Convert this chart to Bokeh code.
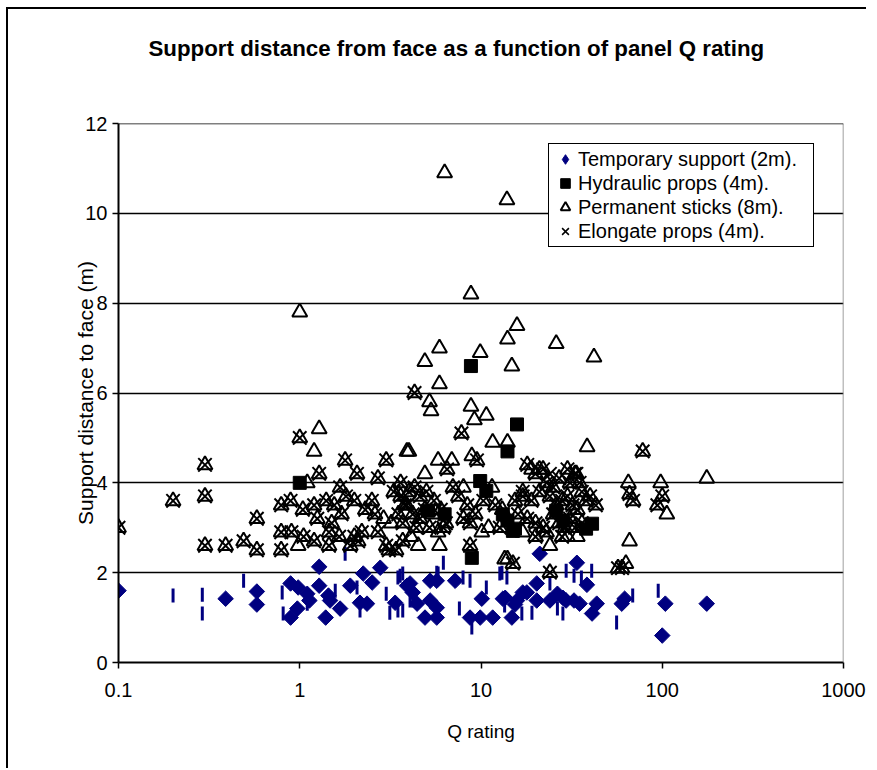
import math
from bokeh.plotting import figure
from bokeh.models import Range1d, FixedTicker, Legend, LegendItem, Span, Title
from bokeh.embed import file_html
from bokeh.resources import INLINE

# ---------------- data ----------------
x_ticks = [0.1, 1, 10, 100, 1000]
x_tick_labels = ["0.1", "1", "10", "100", "1000"]
y_ticks = [0, 2, 4, 6, 8, 10, 12]

title_text = "Support distance from face as a function of panel Q rating"
x_title = "Q rating"
y_title = "Support distance to face (m)"
legend_labels = ["Temporary support (2m).", "Hydraulic props (4m).",
                 "Permanent sticks (8m).", "Elongate props (4m)."]

# Temporary support (2m) - diamonds
temp_q = [0.1, 0.39, 0.58, 0.58, 0.89, 0.98, 1.1, 1.13, 0.97, 0.89, 1.28, 1.28, 1.44, 1.39,
          1.67, 1.9, 2.24, 2.51, 2.78, 2.15, 2.35, 3.36, 3.91, 4.2, 4.06, 5.24, 5.7, 5.24,
          5.7, 4.91, 5.7, 7.2, 4.44, 8.7, 9.9, 11.6, 10.1, 13.6, 14.8, 15.4, 17.9, 20.3,
          21.1, 24, 28.3, 33.8, 29.5, 32.6, 38.4, 35, 43.5, 41, 59.8, 62, 104, 100, 176,
          20.3, 26.4, 13.2, 17, 15.8, 1.47]
temp_d = [1.6, 1.42, 1.58, 1.29, 1.76, 1.67, 1.53, 1.38, 1.2, 1.0, 2.13, 1.71, 1.49, 1.0,
          1.2, 1.71, 1.98, 1.78, 2.11, 1.33, 1.31, 1.33, 1.71, 1.56, 1.76, 1.82, 1.82, 1.38,
          1.22, 1.0, 1.0, 1.82, 1.31, 1.0, 1.0, 1.0, 1.42, 1.44, 1.0, 1.29, 1.56, 1.76,
          2.42, 1.38, 1.44, 2.22, 1.38, 1.38, 1.73, 1.31, 1.31, 1.09, 1.31, 1.42, 1.31, 0.6, 1.31,
          1.38, 1.53, 1.42, 1.56, 1.38, 1.38]

# Temporary support points drawn as thin vertical ticks in the original
temp_tick_q = [0.2, 0.29, 0.29, 0.49, 0.8, 0.81, 1.57, 2.07, 2.15, 3.0, 3.14, 3.58, 3.48,
               4.06, 1.78, 6.2, 5.8, 7.96, 8.7, 8.9, 7.6, 3.7, 4.2, 13.05, 13.9, 10.7, 3.7,
               12.7, 56, 13.5, 19.1, 26.4, 29.5, 40.8, 35.8, 24, 16.8, 28.3, 32.6, 68.7, 95,
               3.48, 5.7, 1.1]
temp_tick_d = [1.49, 1.51, 1.09, 1.82, 1.56, 1.09, 1.6, 1.67, 1.16, 1.53, 1.11, 1.93, 1.16,
               1.38, 2.42, 2.22, 1.98, 1.89, 1.82, 0.78, 1.2, 1.16, 1.38, 2.0, 1.89, 1.67, 1.98,
               1.98, 0.89, 1.27, 1.11, 1.2, 2.04, 2.04, 1.89, 1.76, 1.09, 1.09, 1.93, 1.49, 1.6,
               1.89, 2.0, 1.31]

# Hydraulic props (4m) - squares
hyd_q = [1.0, 8.8, 15.8, 14, 9.9, 10.7, 5.1, 6.3, 8.9, 14, 15.4, 41, 38, 26, 28.5, 13.2, 15]
hyd_d = [4.0, 6.6, 5.3, 4.7, 4.04, 3.82, 3.38, 3.3, 2.33, 3.16, 2.98, 3.09, 2.98, 3.38, 3.16, 3.3, 2.93]

# Permanent sticks (8m) - open triangles
perm_q = [0.1, 0.2, 0.3, 0.3, 0.3, 0.39, 0.49, 0.58, 0.58, 0.79, 0.79, 0.79,
          1.0, 1.28, 1.2, 1.78, 3.0, 3.9, 1.28, 2.07, 2.7, 1.1, 1.67, 0.89, 1.04, 1.2, 1.4,
          1.55, 1.8, 2.0, 2.3, 2.5, 3.3, 3.6, 3.9, 0.9, 1.05, 1.2, 1.45, 1.65, 2.0, 2.2, 2.7,
          3.2, 3.7, 0.98, 1.45, 1.9, 2.1, 3.0, 3.4, 3.1, 1.25, 1.5, 1.7, 2.6, 2.9, 3.5,
          3.6, 4.0, 4.3, 4.6, 5.0, 5.5, 6.0, 3.8, 4.2, 4.6, 5.2, 5.8, 6.2, 4.4, 3.7, 4.9,
          5.4, 6.4, 4.1, 4.5, 5.9, 4.0, 5.8, 6.9, 6.5, 4.9, 7.0, 7.5, 8.0, 8.4, 8.0,
          8.7, 8.7, 10.1, 8.9, 9.5, 7.8, 11.6, 14, 9.2, 10.7, 8.8, 5.3, 5.2, 4.3, 5.9, 14.8,
          4.9, 9.9, 5.9, 26, 42, 14, 15.8, 8.8, 1.0, 6.3, 13.9, 13.1, 12.7, 10.3, 11.5, 12, 9.3, 11,
          18, 20, 22, 23, 25, 27, 30, 31, 33, 35, 36, 17, 19, 21, 24, 26, 28, 30, 32, 34, 38,
          40, 43, 16, 18, 20, 22, 25, 27, 29, 31, 33, 36, 17, 20, 23, 30, 34, 28, 24, 24,
          13.5, 15, 14, 15.4, 17, 33.6, 38.5, 19, 21,
          78, 65, 98, 176, 69, 100, 94, 106, 66, 63, 57, 66, 60]
perm_d = [3.0, 3.6, 4.4, 3.7, 2.6, 2.6, 2.7, 3.2, 2.5, 3.5, 2.9, 2.5,
          5.0, 5.2, 4.7, 4.5, 4.5, 4.7, 4.2, 4.2, 4.1, 4.0, 3.9, 3.6, 3.4, 3.5, 3.6,
          3.5, 3.7, 3.6, 3.4, 3.6, 3.8, 3.7, 3.5, 2.9, 2.8, 2.7, 2.9, 2.8, 2.8, 2.9, 2.9,
          3.1, 2.7, 2.6, 2.6, 2.6, 2.7, 2.6, 2.5, 2.5, 3.2, 3.1, 3.3, 3.3, 3.2, 3.3,
          4.0, 3.8, 3.9, 3.7, 3.8, 3.6, 3.4, 3.5, 3.3, 3.2, 3.0, 2.9, 3.0, 3.0, 3.1, 3.4,
          3.3, 3.1, 2.8, 2.6, 2.6, 4.7, 4.5, 4.5, 4.3, 4.2, 3.9, 3.7, 3.9, 3.5, 3.2,
          3.1, 2.6, 2.9, 4.6, 4.5, 5.1, 4.9, 4.9, 5.4, 5.5, 5.7, 5.6, 5.8, 6.0, 6.2, 6.6,
          6.7, 6.9, 7.0, 7.1, 6.8, 7.2, 7.5, 8.2, 7.8, 10.9, 10.3, 3.4, 3.0, 3.6, 3.9, 3.5, 3.3, 3.0,
          4.4, 4.2, 4.3, 4.0, 3.9, 4.1, 4.3, 4.0, 4.2, 4.0, 3.8, 3.7, 3.6, 3.8, 3.7, 3.5, 3.6, 3.7, 3.5, 3.4, 3.6,
          3.7, 3.5, 3.3, 3.2, 3.1, 3.0, 3.3, 3.1, 3.0, 3.2, 3.0, 3.1, 2.9, 2.8, 2.9, 2.8, 2.8, 2.8, 2.6, 2.0,
          2.3, 2.2, 2.3, 3.6, 3.8, 4.2, 4.8, 4.3, 4.3,
          4.7, 4.0, 4.0, 4.1, 3.6, 3.7, 3.5, 3.3, 2.7, 2.2, 2.1, 3.75, 2.1]

# Elongate props (4m) - crosses
elong_q = [0.1, 0.2, 0.3, 0.3, 0.3, 0.39, 0.49, 0.58, 0.58, 0.79, 0.79, 0.79,
           1.0, 1.78, 3.0, 1.28, 2.07, 2.7, 1.67, 0.89, 1.04, 1.2, 1.4, 1.55, 1.8, 2.0, 2.3,
           2.5, 3.3, 3.6, 3.9, 0.9, 1.05, 1.2, 1.45, 1.65, 2.0, 2.2, 2.7, 3.7, 1.45, 1.9, 2.1,
           3.0, 3.4, 3.1, 1.25, 1.5, 1.7, 2.6, 3.5,
           3.6, 4.0, 4.3, 4.6, 5.0, 5.5, 6.0, 3.8, 4.2, 4.6, 5.2, 6.2, 4.4, 3.7, 4.9, 6.4,
           6.5, 7.0, 7.5, 8.4, 8.0, 8.7, 8.7, 9.5, 7.8, 4.3, 12.7, 10.3, 12, 9.3,
           18, 20, 22, 23, 25, 27, 30, 31, 33, 35, 36, 17, 19, 21, 24, 26, 28, 30, 32, 34, 38,
           40, 43, 16, 18, 20, 22, 25, 27, 29, 31, 33, 36, 20, 23, 28, 24, 15, 15.4, 17, 33.6, 24,
           78, 69, 100, 94, 66, 57, 60]
elong_d = [3.0, 3.6, 4.4, 3.7, 2.6, 2.6, 2.7, 3.2, 2.5, 3.5, 2.9, 2.5,
           5.0, 4.5, 4.5, 4.2, 4.2, 4.1, 3.9, 3.6, 3.4, 3.5, 3.6, 3.5, 3.7, 3.6, 3.4,
           3.6, 3.8, 3.7, 3.5, 2.9, 2.8, 2.7, 2.9, 2.8, 2.8, 2.9, 2.9, 2.7, 2.6, 2.6, 2.7,
           2.6, 2.5, 2.5, 3.2, 3.1, 3.3, 3.3, 3.3,
           4.0, 3.8, 3.9, 3.7, 3.8, 3.6, 3.4, 3.5, 3.3, 3.2, 3.0, 3.0, 3.0, 3.1, 3.4, 3.1,
           4.3, 3.9, 3.7, 3.5, 3.2, 3.1, 2.6, 4.5, 5.1, 6.0, 3.0, 3.6, 3.5, 3.3,
           4.4, 4.2, 4.3, 4.0, 3.9, 4.1, 4.3, 4.0, 4.2, 4.0, 3.8, 3.7, 3.6, 3.8, 3.7, 3.5, 3.6, 3.7, 3.5, 3.4, 3.6,
           3.7, 3.5, 3.3, 3.2, 3.1, 3.0, 3.3, 3.1, 3.0, 3.2, 3.0, 3.1, 2.8, 2.9, 2.8, 2.0, 2.2, 3.6, 3.8, 4.2, 4.2,
           4.7, 3.6, 3.7, 3.5, 3.75, 2.1, 2.1]

FONT = "Liberation Sans"
NAVY = "#000080"
NAN = float("nan")

# ---------------- figure ----------------
p = figure(width=860, height=761, x_axis_type="log",
           x_range=Range1d(0.1, 1000), y_range=Range1d(0, 12),
           output_backend="svg", toolbar_location=None,
           min_border_left=110, min_border_right=25, min_border_top=114, min_border_bottom=108)
p.styles = {"margin-left": "8px", "margin-top": "9px", "box-shadow": "-2px -2px 0px 0px #000000"}
p.background_fill_color = "white"
p.border_fill_color = "white"
p.outline_line_color = None

p.title.text = title_text
p.title.align = "left"
p.title.offset = 30
p.title.vertical_align = "bottom"
p.title.text_font = FONT
p.title.text_font_size = "22.3px"
p.title.text_font_style = "bold"
p.title.text_color = "black"
p.title.standoff = 0
# empty spacer between the title and the plot frame
p.add_layout(Title(text=" ", text_font_size="10px", standoff=50), "above")

# axes
p.xaxis.ticker = FixedTicker(ticks=x_ticks, minor_ticks=[])
p.xaxis.major_label_overrides = {t: l for t, l in zip(x_ticks, x_tick_labels)}
p.yaxis.ticker = FixedTicker(ticks=y_ticks, minor_ticks=[])
for ax in (p.xaxis, p.yaxis):
    ax.axis_line_color = "black"
    ax.axis_line_width = 2
    ax.major_tick_line_color = "black"
    ax.major_tick_line_width = 1.5
    ax.major_tick_out = 6
    ax.major_tick_in = 0
    ax.minor_tick_line_color = None
    ax.major_label_text_font = FONT
    ax.major_label_text_font_size = "20px"
    ax.major_label_text_color = "black"
    ax.axis_label_text_font = FONT
    ax.axis_label_text_font_style = "normal"
    ax.axis_label_text_color = "black"
p.xaxis.axis_label_text_font_size = "19px"
p.yaxis.axis_label_text_font_size = "21px"
p.xaxis.major_label_standoff = 14
p.yaxis.major_label_standoff = 5
p.xaxis.axis_label = x_title
p.yaxis.axis_label = y_title
p.xaxis.axis_label_standoff = 21
p.yaxis.axis_label_standoff = -15

p.xgrid.visible = False
p.ygrid.grid_line_color = "black"
p.ygrid.grid_line_width = 1.5

p.add_layout(Span(location=1000, dimension="height", line_color="#808080", line_width=1.5))
p.add_layout(Span(location=12, dimension="width", line_color="black", line_width=1.5))

# series
r_tick = p.scatter(temp_tick_q, temp_tick_d, marker="dash", angle=math.pi / 2, size=14,
                   line_color=NAVY, line_width=3)
r_temp = p.scatter(temp_q, temp_d, marker="square", angle=math.pi / 4, size=11,
                   fill_color=NAVY, line_color=NAVY, line_width=1)
r_hyd = p.scatter(hyd_q, hyd_d, marker="square", size=13, fill_color="black", line_color="black")
r_perm = p.scatter(perm_q, perm_d, marker="triangle", size=15, fill_color=None,
                   line_color="black", line_width=2)
r_elong = p.scatter(elong_q, elong_d, marker="cross", angle=math.pi / 4, size=19,
                    line_color="black", line_width=2)

# legend keys (legend glyphs ignore marker rotation)
k_temp = p.scatter([NAN], [NAN], marker="diamond", fill_color=NAVY, line_color=NAVY)
k_elong = p.scatter([NAN], [NAN], marker="x", line_color="black", line_width=1.5)

legend = Legend(items=[LegendItem(label=legend_labels[0], renderers=[k_temp]),
                       LegendItem(label=legend_labels[1], renderers=[r_hyd]),
                       LegendItem(label=legend_labels[2], renderers=[r_perm]),
                       LegendItem(label=legend_labels[3], renderers=[k_elong])],
                location=(430, 415), orientation="vertical",
                border_line_color="black", border_line_width=1.5, border_line_alpha=1,
                background_fill_color="white", background_fill_alpha=1,
                label_text_font=FONT, label_text_font_size="20px", label_text_color="black",
                glyph_width=26, glyph_height=24, label_height=24, label_width=232,
                spacing=0, padding=3, margin=0, label_standoff=0)
p.add_layout(legend, "center")

open("out.html", "w").write(file_html(p, INLINE))
